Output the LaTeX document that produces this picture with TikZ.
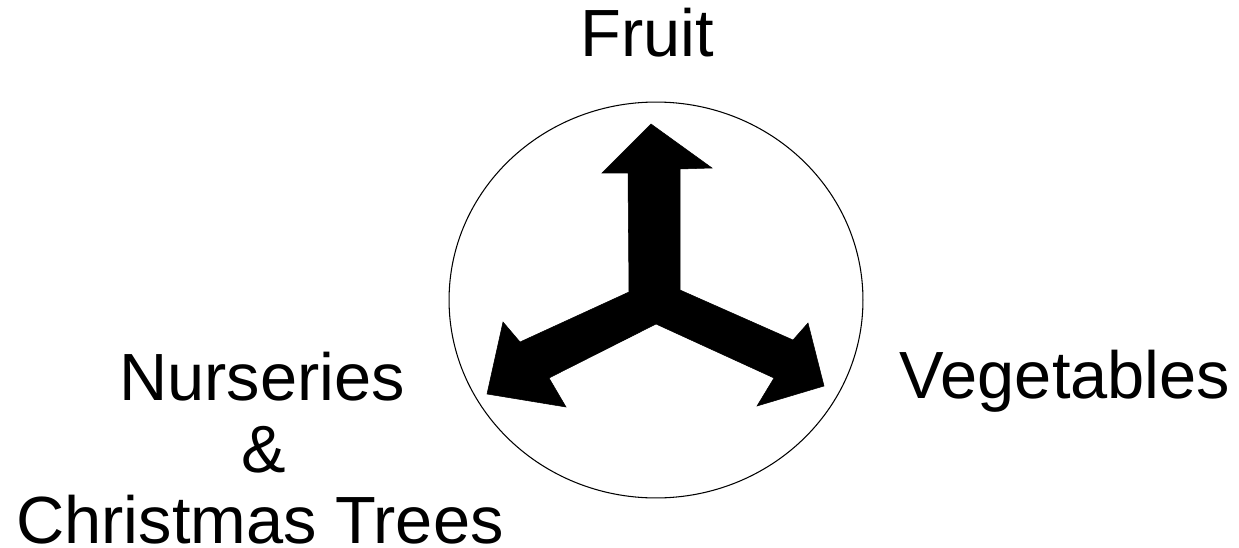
\documentclass[tikz,border=0pt]{standalone}
\usepackage{fontspec}
\setmainfont{Liberation Sans}
\usetikzlibrary{positioning}

\begin{document}
\begin{tikzpicture}[
        x=0.02cm, y=-0.02cm,
        lbl/.style={font=\fontsize{38}{41}\selectfont, inner sep=0pt, anchor=base},
        rim/.style={draw=black, line width=0.6pt},
        blade/.style={fill=black, draw=black, line width=0.3pt, line join=miter},
      ]
        \useasboundingbox (0,0) rectangle (1239,547);
        % circle round the three arrows
        \draw[rim] (656,300) ellipse [x radius=4.14cm, y radius=3.96cm];
        % three-way arrow
        \coordinate (hub) at (656,324);
        \fill[blade] (hub) -- (549,378) -- (566,407) -- (487,394) -- (503,322)
            -- (520,342) -- (629,292) -- (628,173) -- (602,173) -- (651,124)
            -- (712,168) -- (680,169) -- (680,290) -- (793,340) -- (808,323)
            -- (824,386) -- (757,406) -- (774,378) -- cycle;
        % labels
        \node[lbl] (fruit) at (647,57) {Fruit};
        \node[lbl] (veg) at (1065,398) {Vegetables};
        \node[lbl] (nurs) at (262,400) {Nurseries};
        \node[lbl] (amp) at (264,472) {\&};
        \node[lbl] (xmas) at (260,543) {Christmas Trees};
      \end{tikzpicture}
\end{document}
